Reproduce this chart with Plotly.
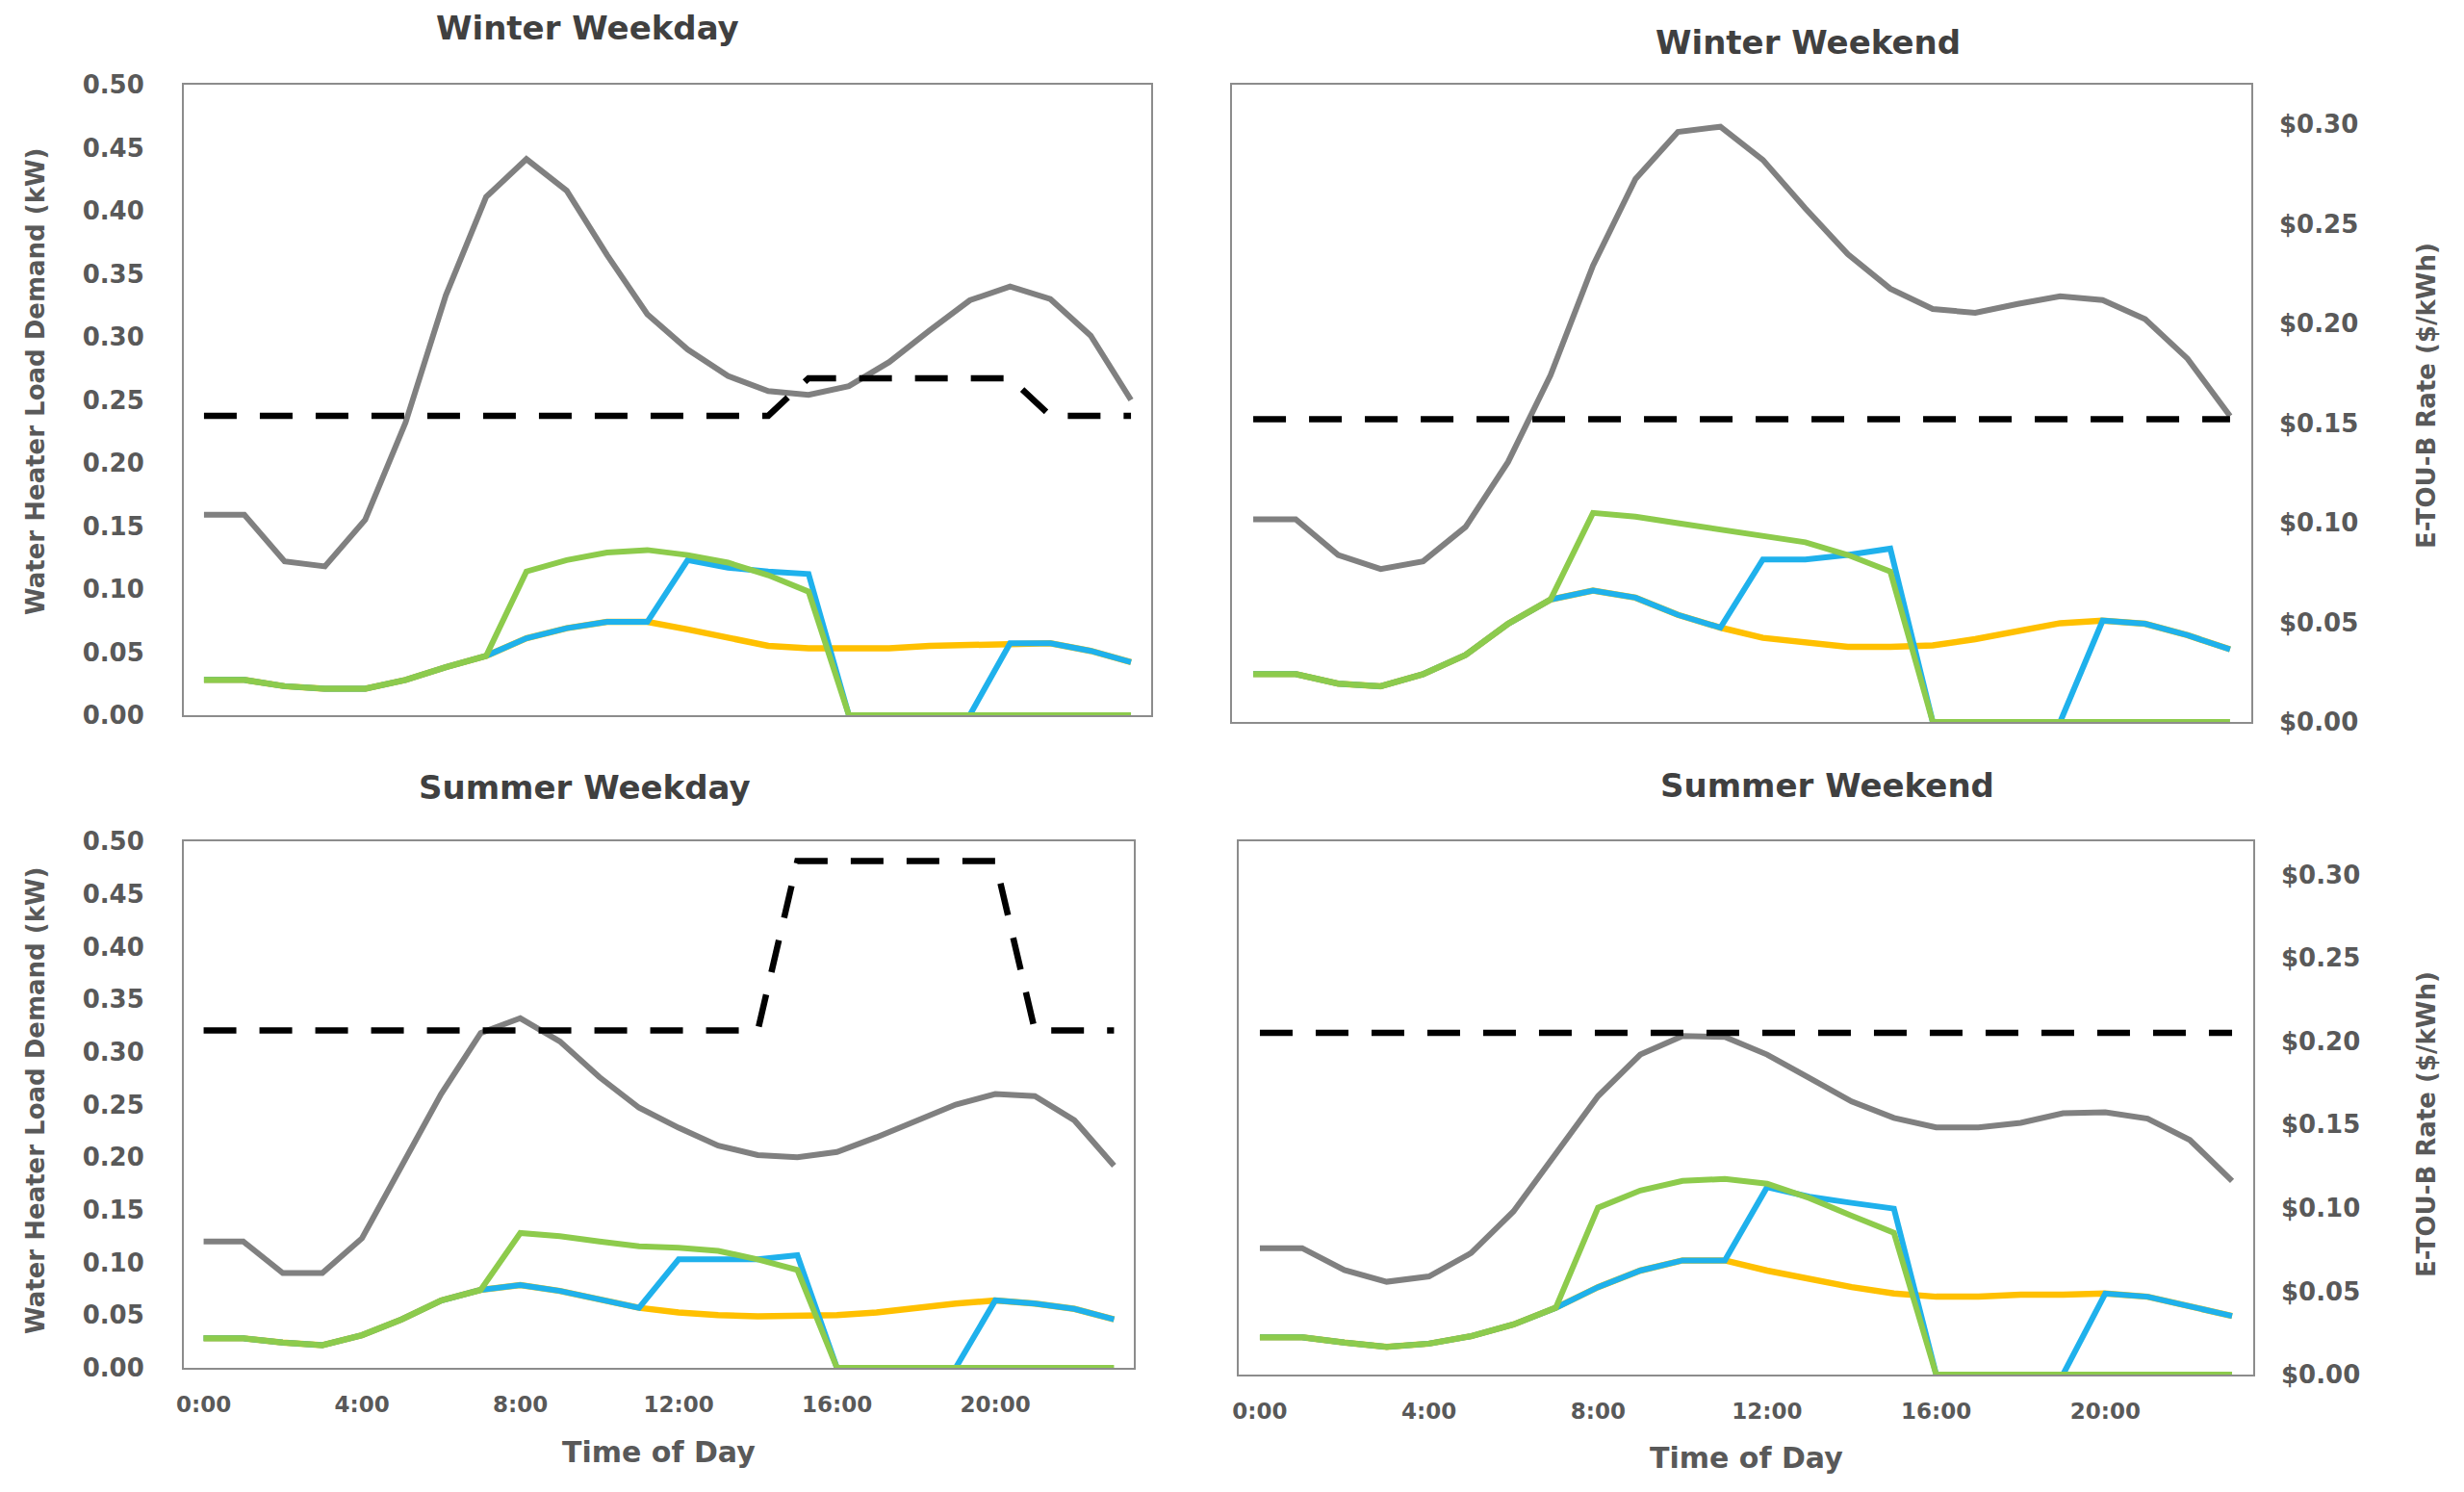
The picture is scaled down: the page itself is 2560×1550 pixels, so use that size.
import plotly.graph_objects as go

# ---------------- data ----------------
hours = list(range(24))
tick_hours = [0, 4, 8, 12, 16, 20]
tick_labels = ["0:00", "4:00", "8:00", "12:00", "16:00", "20:00"]
rate_ticks = [0.00, 0.05, 0.10, 0.15, 0.20, 0.25, 0.30]
load_ticks = [0.00, 0.05, 0.10, 0.15, 0.20, 0.25, 0.30, 0.35, 0.40, 0.45, 0.50]

titles = ["Winter Weekday", "Winter Weekend", "Summer Weekday", "Summer Weekend"]

# Winter weekday
ww_base = [0.159, 0.159, 0.122, 0.118, 0.155, 0.232, 0.333, 0.411, 0.441, 0.416, 0.365, 0.318,
           0.290, 0.269, 0.257, 0.254, 0.261, 0.280, 0.305, 0.329, 0.340, 0.330, 0.301, 0.250]
ww_rate = [0.152, 0.152, 0.152, 0.152, 0.152, 0.152, 0.152, 0.152, 0.152, 0.152, 0.152, 0.152,
           0.152, 0.152, 0.152, 0.171, 0.171, 0.171, 0.171, 0.171, 0.171, 0.152, 0.152, 0.152]
ww_orange = [0.028, 0.028, 0.023, 0.021, 0.021, 0.028, 0.038, 0.047, 0.061, 0.069, 0.074, 0.074,
             0.068, 0.061, 0.055, 0.053, 0.053, 0.053, 0.055, 0.056, 0.057, 0.057, 0.051, 0.042]
ww_blue = [0.028, 0.028, 0.023, 0.021, 0.021, 0.028, 0.038, 0.047, 0.061, 0.069, 0.074, 0.074,
           0.123, 0.117, 0.114, 0.112, 0.0, 0.0, 0.0, 0.0, 0.057, 0.057, 0.051, 0.042]
ww_green = [0.028, 0.028, 0.023, 0.021, 0.021, 0.028, 0.038, 0.047, 0.114, 0.123, 0.129, 0.131,
            0.127, 0.121, 0.111, 0.098, 0.0, 0.0, 0.0, 0.0, 0.0, 0.0, 0.0, 0.0]

# Winter weekend
we_base = [0.159, 0.159, 0.131, 0.120, 0.126, 0.153, 0.204, 0.272, 0.358, 0.426, 0.463, 0.467,
           0.441, 0.403, 0.367, 0.340, 0.324, 0.321, 0.328, 0.334, 0.331, 0.316, 0.285, 0.240]
we_rate = [0.152, 0.152, 0.152, 0.152, 0.152, 0.152, 0.152, 0.152, 0.152, 0.152, 0.152, 0.152,
           0.152, 0.152, 0.152, 0.152, 0.152, 0.152, 0.152, 0.152, 0.152, 0.152, 0.152, 0.152]
we_orange = [0.0375, 0.0375, 0.030, 0.028, 0.0375, 0.0525, 0.077, 0.096, 0.103, 0.0975, 0.084, 0.074,
             0.066, 0.062, 0.059, 0.059, 0.060, 0.065, 0.071, 0.0775, 0.0795, 0.077, 0.068, 0.057]
we_blue = [0.0375, 0.0375, 0.030, 0.028, 0.0375, 0.0525, 0.077, 0.096, 0.103, 0.0975, 0.084, 0.074,
           0.1275, 0.1275, 0.131, 0.136, 0.0, 0.0, 0.0, 0.0, 0.0795, 0.077, 0.068, 0.057]
we_green = [0.0375, 0.0375, 0.030, 0.028, 0.0375, 0.0525, 0.077, 0.096, 0.164, 0.161, 0.156, 0.151,
            0.146, 0.141, 0.131, 0.118, 0.0, 0.0, 0.0, 0.0, 0.0, 0.0, 0.0, 0.0]

# Summer weekday
sw_base = [0.120, 0.120, 0.090, 0.090, 0.123, 0.192, 0.260, 0.318, 0.332, 0.310, 0.276, 0.247,
           0.228, 0.211, 0.202, 0.200, 0.205, 0.219, 0.235, 0.250, 0.260, 0.258, 0.235, 0.192]
sw_rate = [0.205, 0.205, 0.205, 0.205, 0.205, 0.205, 0.205, 0.205, 0.205, 0.205, 0.205, 0.205,
           0.205, 0.205, 0.205, 0.308, 0.308, 0.308, 0.308, 0.308, 0.308, 0.205, 0.205, 0.205]
sw_orange = [0.028, 0.028, 0.024, 0.0215, 0.031, 0.046, 0.064, 0.074, 0.0785, 0.073, 0.065, 0.057,
             0.0525, 0.050, 0.049, 0.049, 0.050, 0.0525, 0.057, 0.061, 0.064, 0.061, 0.056, 0.046]
sw_blue = [0.028, 0.028, 0.024, 0.0215, 0.031, 0.046, 0.064, 0.074, 0.0785, 0.073, 0.065, 0.057,
           0.103, 0.103, 0.103, 0.107, 0.0, 0.0, 0.0, 0.0, 0.064, 0.061, 0.056, 0.046]
sw_green = [0.028, 0.028, 0.024, 0.0215, 0.031, 0.046, 0.064, 0.074, 0.128, 0.125, 0.120, 0.1155,
            0.114, 0.111, 0.103, 0.093, 0.0, 0.0, 0.0, 0.0, 0.0, 0.0, 0.0, 0.0]

# Summer weekend
se_base = [0.1185, 0.1185, 0.098, 0.087, 0.092, 0.114, 0.153, 0.207, 0.261, 0.300, 0.3175, 0.3166,
           0.300, 0.278, 0.256, 0.2406, 0.2317, 0.2317, 0.236, 0.245, 0.246, 0.240, 0.220, 0.1816]
se_rate = [0.205, 0.205, 0.205, 0.205, 0.205, 0.205, 0.205, 0.205, 0.205, 0.205, 0.205, 0.205,
           0.205, 0.205, 0.205, 0.205, 0.205, 0.205, 0.205, 0.205, 0.205, 0.205, 0.205, 0.205]
se_orange = [0.035, 0.035, 0.030, 0.026, 0.029, 0.036, 0.047, 0.0626, 0.082, 0.0975, 0.107, 0.107,
             0.0975, 0.0894, 0.082, 0.076, 0.073, 0.073, 0.075, 0.075, 0.076, 0.073, 0.064, 0.055]
se_blue = [0.035, 0.035, 0.030, 0.026, 0.029, 0.036, 0.047, 0.0626, 0.082, 0.0975, 0.107, 0.107,
           0.1758, 0.1668, 0.161, 0.1556, 0.0, 0.0, 0.0, 0.0, 0.076, 0.073, 0.064, 0.055]
se_green = [0.035, 0.035, 0.030, 0.026, 0.029, 0.036, 0.047, 0.0626, 0.1565, 0.1726, 0.1816, 0.1834,
            0.179, 0.1655, 0.149, 0.133, 0.0, 0.0, 0.0, 0.0, 0.0, 0.0, 0.0, 0.0]

panels = [
    (ww_base, ww_rate, ww_orange, ww_blue, ww_green),
    (we_base, we_rate, we_orange, we_blue, we_green),
    (sw_base, sw_rate, sw_orange, sw_blue, sw_green),
    (se_base, se_rate, se_orange, se_blue, se_green),
]

# ---------------- layout geometry (pixels) ----------------
W, H = 2560, 1550
boxes = [  # x0, x1, ytop, ybottom
    (191, 1196, 88, 743),
    (1280, 2339, 88, 750),
    (191, 1178, 874, 1421),
    (1287, 2341, 874, 1428),
]
title_pos = [(610, 29), (1878, 44), (607, 818), (1898, 816)]
side_title_y = [396, 411, 1143, 1168]

FONT = "DejaVu Sans"
TXT = "#595959"
GRAY = "#808080"
ORANGE = "#FFC000"
BLUE = "#1FB1EC"
GREEN = "#8DCB4C"
BORDER = "#8C8C8C"


def b(s):
    return f"<b>{s}</b>"


fig = go.Figure()
layout = dict(
    width=W, height=H, margin=dict(l=0, r=0, t=0, b=0, autoexpand=False),
    paper_bgcolor="white", plot_bgcolor="white", showlegend=False,
    font=dict(family=FONT, color=TXT),
)
annotations = []

for i, (base, rate, orange, blue, green) in enumerate(panels):
    n = i + 1
    xa = "x" if n == 1 else f"x{n}"
    yp = 2 * n - 1
    ys = 2 * n
    yp_name = "y" if yp == 1 else f"y{yp}"
    ys_name = f"y{ys}"
    x0, x1, yt, yb = boxes[i]
    xdom = [x0 / W, x1 / W]
    ydom = [1 - yb / H, 1 - yt / H]
    right = (i % 2 == 1)
    bottom = (i >= 2)

    for vals, col, wdt in [(base, GRAY, 6), (orange, ORANGE, 6.5), (blue, BLUE, 6), (green, GREEN, 6)]:
        fig.add_trace(go.Scatter(x=hours, y=vals, mode="lines", xaxis=xa, yaxis=yp_name,
                                 line=dict(color=col, width=wdt), hoverinfo="skip"))
    fig.add_trace(go.Scatter(x=hours, y=rate, mode="lines", xaxis=xa, yaxis=ys_name,
                             line=dict(color="black", width=6.5, dash="34px,24px"), hoverinfo="skip"))

    xkey = "xaxis" if n == 1 else f"xaxis{n}"
    layout[xkey] = dict(
        domain=xdom, anchor=yp_name, range=[-0.5, 23.5], automargin=False,
        tickmode="array", tickvals=tick_hours, ticktext=[b(t) for t in tick_labels],
        showticklabels=bottom, ticks="", ticklabelstandoff=16,
        tickfont=dict(family=FONT, size=23, color=TXT),
        showline=True, mirror=True, linecolor=BORDER, linewidth=2,
        showgrid=False, zeroline=False, fixedrange=True,
    )
    ypkey = "yaxis" if yp == 1 else f"yaxis{yp}"
    layout[ypkey] = dict(
        domain=ydom, anchor=xa, range=[0, 0.5], automargin=False,
        tickmode="array", tickvals=load_ticks, ticktext=[b(f"{v:.2f}") for v in load_ticks],
        showticklabels=not right, ticks="", ticklabelstandoff=34,
        tickfont=dict(family=FONT, size=26, color=TXT),
        showline=True, mirror=True, linecolor=BORDER, linewidth=2,
        showgrid=False, zeroline=False, fixedrange=True,
    )
    layout[f"yaxis{ys}"] = dict(
        overlaying=yp_name, anchor=xa, side="right", range=[0, 0.32], automargin=False,
        tickmode="array", tickvals=rate_ticks, ticktext=[b(f"${v:.2f}") for v in rate_ticks],
        showticklabels=right, visible=right, ticks="", ticklabelstandoff=28,
        tickfont=dict(family=FONT, size=26, color=TXT),
        showline=False, showgrid=False, zeroline=False, fixedrange=True,
    )

    tx, ty = title_pos[i]
    annotations.append(dict(text=b(titles[i]), x=tx / W, y=1 - ty / H, xref="paper", yref="paper",
                            xanchor="center", yanchor="middle", showarrow=False,
                            font=dict(family=FONT, size=34, color="#404040")))
    if not right:
        annotations.append(dict(text=b("Water Heater Load Demand (kW)"), x=37 / W,
                                y=1 - side_title_y[i] / H, xref="paper", yref="paper",
                                xanchor="center", yanchor="middle", textangle=-90, showarrow=False,
                                font=dict(family=FONT, size=26, color=TXT)))
    else:
        annotations.append(dict(text=b("E-TOU-B Rate ($/kWh)"), x=2521 / W,
                                y=1 - side_title_y[i] / H, xref="paper", yref="paper",
                                xanchor="center", yanchor="middle", textangle=-90, showarrow=False,
                                font=dict(family=FONT, size=26, color=TXT)))
    if bottom:
        annotations.append(dict(text=b("Time of Day"), x=((x0 + x1) / 2) / W,
                                y=1 - (1508 if not right else 1514) / H, xref="paper", yref="paper",
                                xanchor="center", yanchor="middle", showarrow=False,
                                font=dict(family=FONT, size=30, color=TXT)))

layout["annotations"] = annotations
fig.update_layout(**layout)
fig.write_html("out.html", config={"displayModeBar": False},
               post_script="document.body.style.margin='0px';document.body.style.overflow='hidden';")
